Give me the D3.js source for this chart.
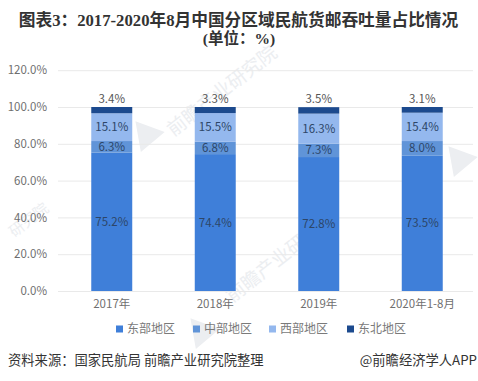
<!DOCTYPE html>
<html>
<head>
<meta charset="utf-8">
<style>
  html, body { margin: 0; padding: 0; background: #fff; }
  svg { display: block; }
  text { font-family: "Noto Sans CJK SC", "Open Sans", sans-serif; }
</style>
<script src="https://cdn.jsdelivr.net/npm/d3@7"></script>
</head>
<body>
<svg id="chart" width="478" height="381"></svg>
<script>
var categories = ["2017年", "2018年", "2019年", "2020年1-8月"];
var east = [75.2, 74.4, 72.8, 73.5];
var central = [6.3, 6.8, 7.3, 8.0];
var west = [15.1, 15.5, 16.3, 15.4];
var northeast = [3.4, 3.3, 3.5, 3.1];
var seriesNames = ["东部地区", "中部地区", "西部地区", "东北地区"];
var seriesColors = ["#3f7fd9", "#6094d8", "#94b8ee", "#1c4a8e"];
var yTicks = [0, 20, 40, 60, 80, 100, 120];
var watermarkText = [[226, 96, "前瞻产业研究院"], [285, 262, "前瞻产业研究院"], [32, 224, "研究院"]];
var watermarkLogos = [[147, 135], [460, 160], [202, 332]];

var svg = d3.select("#chart");

var x = d3.scaleBand().domain(categories).range([60, 474]).paddingInner(0.604).paddingOuter(0.302);
var y = d3.scaleLinear().domain([0, 120]).range([291, 70.2]);

// watermark goes under everything else
var wm = svg.append("g");
wm.selectAll("text")
  .data(watermarkText)
  .enter().append("text")
    .attr("transform", function(d) { return "translate(" + d[0] + "," + d[1] + ") rotate(-38)"; })
    .attr("text-anchor", "middle")
    .attr("font-size", function(d, i) { return i === 2 ? 15 : 19; })
    .attr("fill", "#eceef1")
    .text(function(d) { return d[2]; });
wm.selectAll("path")
  .data(watermarkLogos)
  .enter().append("path")
    .attr("d", d3.symbol().type(d3.symbolTriangle).size(420))
    .attr("transform", function(d) { return "translate(" + d[0] + "," + d[1] + ") rotate(200)"; })
    .attr("fill", "#eceef1");

// y axis
var yAxis = d3.axisLeft(y).tickValues(yTicks).tickFormat(function(d) { return d.toFixed(1) + "%"; }).tickSize(0).tickPadding(11);
var yG = svg.append("g").attr("transform", "translate(58,0)").call(yAxis);
yG.select(".domain").remove();
yG.selectAll("text").attr("font-size", 11.5).attr("fill", "#6f6f6f");
yG.selectAll("line").attr("x2", 415).attr("stroke", "#e9e9e9");

// x axis
var xAxis = d3.axisBottom(x).tickSize(0).tickPadding(9);
var xG = svg.append("g").attr("transform", "translate(0,291)").call(xAxis);
xG.select(".domain").remove();
xG.selectAll("text").attr("font-size", 11.5).attr("fill", "#6f6f6f");

var rows = categories.map(function(c, i) {
  return { cat: c, "东部地区": east[i], "中部地区": central[i], "西部地区": west[i], "东北地区": northeast[i] };
});
var stacked = d3.stack().keys(seriesNames)(rows);

var groups = svg.append("g").selectAll("g")
  .data(stacked)
  .enter().append("g")
    .attr("fill", function(d, i) { return seriesColors[i]; });

groups.selectAll("rect")
  .data(function(d) { return d; })
  .enter().append("rect")
    .attr("x", function(d) { return x(d.data.cat); })
    .attr("y", function(d) { return y(d[1]); })
    .attr("width", x.bandwidth())
    .attr("height", function(d) { return y(d[0]) - y(d[1]); });

// value labels, the top series sits above the bar
var labels = svg.append("g").selectAll("g")
  .data(stacked)
  .enter().append("g");

labels.each(function(s, si) {
  d3.select(this).selectAll("text")
    .data(s)
    .enter().append("text")
      .attr("x", function(d) { return x(d.data.cat) + x.bandwidth() / 2; })
      .attr("y", function(d) {
        if (si === 3) return y(d[1]) - 4;
        return y((d[0] + d[1]) / 2) + 4;
      })
      .attr("text-anchor", "middle")
      .attr("font-size", 11.5)
      .attr("fill", si === 3 ? "#555" : "#2d4668")
      .text(function(d) { return (d[1] - d[0]).toFixed(1) + "%"; });
});

// legend
var legendX = d3.scaleOrdinal().domain(seriesNames).range([116, 193, 269, 347]);
var legend = svg.append("g").selectAll("g")
  .data(seriesNames)
  .enter().append("g")
    .attr("transform", function(d) { return "translate(" + legendX(d) + ",329)"; });
legend.append("rect")
  .attr("x", 0).attr("y", -3.5).attr("width", 7).attr("height", 7)
  .attr("fill", function(d, i) { return seriesColors[i]; });
legend.append("text")
  .attr("x", 11).attr("y", 4)
  .attr("font-size", 12)
  .attr("fill", "#7a7a7a")
  .text(function(d) { return d; });

// title
svg.append("text")
  .attr("x", 238.5).attr("y", 26)
  .attr("text-anchor", "middle")
  .attr("font-size", 16.7)
  .attr("font-weight", "bold")
  .attr("fill", "#333")
  .style("font-family", '"Liberation Serif", "Noto Sans CJK SC", serif')
  .text("图表3：2017-2020年8月中国分区域民航货邮吞吐量占比情况");
svg.append("text")
  .attr("x", 239).attr("y", 44)
  .attr("text-anchor", "middle")
  .attr("font-size", 15.5)
  .attr("font-weight", "bold")
  .attr("fill", "#333")
  .style("font-family", '"Liberation Serif", "Noto Sans CJK SC", serif')
  .text("(单位：%)");

// footer
svg.append("text")
  .attr("x", 8).attr("y", 365)
  .attr("font-size", 13.3)
  .attr("fill", "#333")
  .text("资料来源：国家民航局 前瞻产业研究院整理");
svg.append("text")
  .attr("x", 477).attr("y", 365)
  .attr("text-anchor", "end")
  .attr("font-size", 13.3)
  .attr("fill", "#333")
  .text("@前瞻经济学人APP");
</script>
</body>
</html>
